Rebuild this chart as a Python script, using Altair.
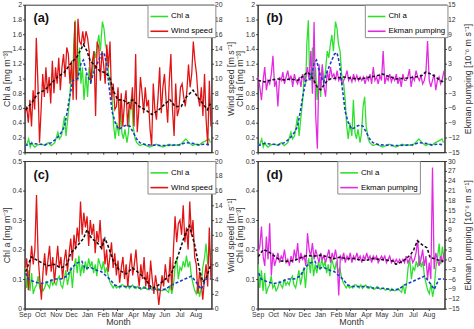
import altair as alt
import numpy as np
import pandas as pd

# ---------------- data ----------------
MONTH_STARTS = [(2010, 9), (2010, 10), (2010, 11), (2010, 12), (2011, 1), (2011, 2),
                (2011, 3), (2011, 4), (2011, 5), (2011, 6), (2011, 7), (2011, 8)]

# Chl a, offshore region (panels a, b): day offset from 1 Sep, value mg m-3
CHL_AB_DAY = [1, 5, 8, 11, 14, 17, 20, 26, 33, 40, 46, 52, 59, 65, 68, 72, 75, 78, 81, 84, 88, 91, 94, 96,
              99, 101, 104, 107, 110, 113, 116, 120, 123, 126, 129, 132, 136, 139, 142, 145, 148, 152,
              155, 158, 161, 164, 168, 171, 174, 177, 180, 184, 187, 190, 193, 196, 200, 203, 206, 209,
              212, 216, 219, 225, 232, 238, 244, 251, 257, 264, 270, 276, 283, 289, 296, 302, 308, 315,
              321, 328, 334, 340, 347, 353, 360, 363]
CHL_AB = [0.09, 0.12, 0.18, 0.07, 0.13, 0.09, 0.07, 0.10, 0.11, 0.09, 0.13, 0.09, 0.13, 0.27, 0.18, 0.22,
          0.35, 0.49, 0.22, 0.44, 0.71, 1.06, 0.93, 1.46, 1.79, 1.15, 0.97, 1.42, 0.93, 1.15, 0.71, 1.06,
          0.75, 1.15, 0.93, 1.06, 1.37, 1.28, 1.46, 1.59, 1.37, 1.77, 1.68, 1.46, 1.37, 1.06, 0.93, 0.71,
          0.35, 0.18, 0.40, 0.22, 0.71, 0.27, 0.18, 0.31, 0.13, 0.27, 0.62, 0.75, 0.35, 0.18, 0.13, 0.09,
          0.11, 0.09, 0.07, 0.09, 0.11, 0.09, 0.07, 0.09, 0.11, 0.09, 0.10, 0.09, 0.13, 0.18, 0.13, 0.09,
          0.11, 0.09, 0.13, 0.15, 0.18, 0.13]
CHL_AB_SM_DAY = [1, 14, 27, 40, 52, 62, 72, 78, 84, 88, 94, 104, 110, 115, 122, 129, 136, 142, 150, 155,
                 160, 164, 171, 177, 184, 193, 200, 206, 212, 219, 225, 238, 270, 302, 315, 328, 340, 353, 363]
CHL_AB_SM = [0.09, 0.12, 0.11, 0.10, 0.13, 0.18, 0.27, 0.35, 0.58, 0.75, 0.97, 1.00, 1.20, 1.25, 1.05,
             0.95, 1.10, 1.20, 1.33, 1.35, 1.20, 0.95, 0.55, 0.40, 0.31, 0.35, 0.37, 0.35, 0.27, 0.18,
             0.13, 0.10, 0.09, 0.10, 0.13, 0.12, 0.10, 0.11, 0.10]

# Wind speed, panel a (m s-1), roughly every 3 days
WIND_A = [5.3, 6.2, 4.0, 7.1, 3.5, 8.4, 5.8, 15.5, 9.3, 1.3, 5.8, 10.6, 7.5, 11.5, 8.0, 10.2, 6.6, 12.4,
          8.0, 11.5, 9.3, 12.8, 8.4, 11.5, 13.3, 10.2, 14.2, 13.3, 9.3, 12.4, 7.1, 17.7, 7.1, 18.1, 15.0,
          14.6, 16.4, 14.6, 16.4, 15.5, 13.7, 9.3, 12.4, 13.7, 4.9, 15.0, 14.2, 9.7, 13.7, 11.9, 9.3,
          14.6, 11.5, 15.0, 7.1, 9.3, 5.8, 6.2, 8.8, 3.1, 8.0, 3.5, 6.6, 8.4, 3.5, 6.6, 5.8, 8.8, 3.5,
          13.3, 2.7, 5.8, 10.2, 8.0, 5.3, 8.8, 6.2, 7.1, 3.1, 0.9, 9.3, 5.8, 4.4, 7.5, 11.5, 5.3, 8.8,
          10.6, 7.1, 4.0, 9.7, 13.3, 5.8, 2.2, 9.3, 4.9, 5.8, 8.8, 9.3, 7.5, 6.2, 8.4, 11.9, 8.8, 10.6,
          15.0, 12.4, 10.6, 7.5, 6.2, 8.8, 4.9, 10.6, 4.4, 0.9, 9.7, 3.5]
WIND_A_SM_DAY = [2, 13, 26, 39, 52, 64, 77, 90, 103, 115, 122, 128, 138, 147, 157, 166, 173, 182, 192,
                 201, 211, 224, 236, 249, 262, 275, 284, 294, 306, 316, 329, 338, 348, 357, 363]
WIND_A_SM = [5.75, 6.6, 8.0, 8.4, 9.3, 10.2, 10.8, 12.0, 13.0, 14.6, 13.7, 12.4, 11.7, 11.0, 10.8, 10.2,
             8.4, 7.1, 7.1, 6.6, 7.1, 6.2, 5.75, 5.1, 5.75, 6.6, 7.1, 6.2, 6.2, 7.5, 8.4, 7.5, 6.6,
             5.75, 6.6]

# Ekman pumping, panel b (1e-6 m s-1), roughly every 3 days
EKMAN_B = [0.3, -1.7, -4.4, -0.4, 2.3, -2.4, -0.4, -1.1, 0.9, 4.6, -1.7, -0.4, -5.7, 0.3, -0.4, 1.3,
           -1.1, 0.3, 1.6, -0.4, 0.6, -1.7, 0.9, -0.4, -1.1, 0.3, -1.7, 0.9, -0.4, 0.3, 2.3, -0.4, 5.6,
           -3.1, 11.5, -7.7, -14.3, 2.9, -2.4, 2.9, -1.7, -3.7, 1.6, -0.4, 2.3, 0.3, 0.9, -0.4, 1.6,
           -0.4, 0.3, -1.1, -0.4, 0.3, 1.6, -0.4, 0.3, -0.7, 0.9, -0.4, 0.6, -0.4, 0.3, -0.4, 0.3, -1.1,
           0.3, -0.4, 0.9, -1.1, 2.3, -0.4, 0.3, -1.1, 0.6, -0.4, 5.6, -1.1, 0.3, -0.4, 0.9, -0.7, 0.3,
           -0.4, 0.9, -1.1, 0.3, -1.7, 0.9, -0.4, -0.4, 0.3, 1.9, -1.7, 0.3, -0.4, 1.6, 0.3, -0.4, 0.6,
           -1.1, -0.4, 1.3, 7.6, -0.4, -1.7, -0.4, 0.9, -2.4, -0.4, 0.3, -1.1, -0.1, 1.6]
EKMAN_B_SM_DAY = [1, 14, 27, 40, 52, 65, 78, 88, 97, 104, 110, 116, 123, 129, 136, 142, 155, 168, 180,
                  193, 206, 219, 232, 244, 257, 270, 283, 296, 308, 321, 328, 334, 347, 356, 363]
EKMAN_B_SM = [-0.4, -0.7, -0.3, -0.1, -0.3, -0.1, -0.4, 0.4, 1.3, 0.6, -0.4, -1.7, -2.3, -1.4, -0.4,
              -0.1, 0.1, 0.3, 0.1, -0.1, 0.0, 0.3, 0.5, 0.9, 0.4, -0.1, 0.0, 0.1, 0.3, 0.6, 1.3, 1.1,
              0.4, -0.4, -0.7]

# Chl a, coastal region (panels c, d), roughly every 3 days
CHL_CD = [0.15, 0.07, 0.13, 0.06, 0.12, 0.05, 0.07, 0.08, 0.11, 0.07, 0.08, 0.06, 0.07, 0.09, 0.08, 0.07,
          0.10, 0.08, 0.09, 0.08, 0.10, 0.11, 0.08, 0.07, 0.10, 0.13, 0.08, 0.11, 0.14, 0.07, 0.14, 0.17,
          0.12, 0.18, 0.11, 0.15, 0.12, 0.16, 0.13, 0.17, 0.14, 0.16, 0.12, 0.15, 0.11, 0.17, 0.15, 0.13,
          0.16, 0.12, 0.14, 0.11, 0.09, 0.08, 0.07, 0.08, 0.07, 0.075, 0.07, 0.08, 0.08, 0.075, 0.07,
          0.08, 0.068, 0.075, 0.08, 0.07, 0.068, 0.075, 0.07, 0.065, 0.068, 0.075, 0.07, 0.065, 0.068,
          0.07, 0.062, 0.065, 0.068, 0.06, 0.068, 0.062, 0.06, 0.065, 0.068, 0.06, 0.055, 0.08, 0.05,
          0.08, 0.14, 0.17, 0.10, 0.14, 0.13, 0.16, 0.14, 0.18, 0.14, 0.16, 0.11, 0.085, 0.062, 0.05,
          0.085, 0.04, 0.07, 0.14, 0.17, 0.22, 0.15, 0.21, 0.17]
CHL_CD_SM_DAY = [2, 7, 20, 32, 45, 58, 71, 83, 93, 103, 112, 118, 128, 141, 150, 160, 166, 176, 185, 198,
                 211, 224, 236, 249, 262, 275, 287, 300, 313, 326, 335, 345, 354, 364]
CHL_CD_SM = [0.12, 0.10, 0.09, 0.085, 0.09, 0.10, 0.10, 0.11, 0.14, 0.155, 0.16, 0.135, 0.14, 0.13,
             0.125, 0.11, 0.10, 0.08, 0.075, 0.075, 0.075, 0.07, 0.07, 0.068, 0.063, 0.065, 0.08, 0.09,
             0.10, 0.11, 0.09, 0.065, 0.10, 0.10]

# Wind speed, panel c
WIND_C = [5.5, 6.8, 2.5, 5.8, 8.5, 6.0, 8.0, 15.4, 7.0, 4.0, 1.2, 5.0, 7.5, 4.5, 6.5, 8.5, 5.0, 7.0, 3.5,
          6.0, 8.5, 5.5, 7.0, 4.0, 6.5, 8.0, 5.0, 7.5, 9.5, 6.5, 10.0, 8.0, 11.0, 9.0, 14.5, 10.0, 13.0,
          11.0, 12.5, 8.5, 12.0, 10.0, 11.5, 7.5, 10.5, 9.0, 12.0, 8.0, 9.5, 6.0, 8.0, 5.0, 7.0, 9.0,
          5.5, 7.5, 4.5, 6.5, 3.5, 5.5, 7.0, 4.0, 6.0, 3.0, 5.5, 7.5, 4.5, 6.0, 8.0, 5.0, 3.0, 6.0, 4.0,
          7.0, 3.0, 5.0, 2.5, 6.5, 4.0, 2.0, 4.5, 3.0, 0.5, 2.5, 4.5, 3.0, 6.0, 4.0, 3.5, 7.0, 2.5, 8.0,
          12.5, 9.0, 11.5, 12.0, 10.0, 14.0, 9.0, 11.0, 8.0, 14.5, 10.0, 12.0, 7.0, 6.0, 2.0, 5.0, 3.5,
          1.2, 4.0, 6.0, 3.0, 11.0, 4.0]
WIND_C_SM_DAY = [2, 13, 26, 39, 45, 58, 71, 83, 90, 103, 115, 122, 131, 141, 150, 157, 163, 173, 185,
                 198, 211, 224, 236, 249, 262, 275, 287, 300, 313, 322, 332, 341, 348, 354, 364]
WIND_C_SM = [5.0, 7.0, 6.5, 6.0, 5.8, 6.0, 5.5, 6.0, 7.5, 8.5, 9.5, 10.7, 9.5, 9.0, 8.2, 9.5, 8.5, 6.5,
             5.2, 4.7, 5.5, 4.8, 4.0, 2.7, 3.2, 4.0, 4.8, 7.2, 10.0, 11.2, 8.7, 5.5, 3.6, 4.0, 6.0]

# Ekman pumping, panel d
EKMAN_D = [2, 4, 10, 1, -2, 7, 0, 11, -5, 2, -2, 0, 2, -1, 1, 0, 3, -1, 0, -2, 1, -1, 3, 0, 5, -1, 2, 0,
           1, -2, 8, 3, 1, 5, 0, 3, 1, -1, 2, 0, 1, -1, 1, 3, -1, 2, 0, 3, 0, -11, 1, 0, 2, -1, 1, 0,
           2, -1, 1, 0, 2, 0, 1, -1, 1, 0, 2, 0, 1, -1, 1, 0, 1, -1, 0, 1, 0, 1, -1, 0, 1, -1, 0, -1,
           0, -1, 0, -1, 0, -1, 1, -1, 0, 1, -1, 0, 2, 6, -2, 0, 3, -2, 1, -6, -1, -6, 28, -3, 2, 0, -2,
           1, -1, 2]
EKMAN_D_SM_DAY = [1, 11, 20, 33, 46, 59, 72, 84, 97, 110, 123, 136, 148, 161, 174, 187, 200, 212, 225,
                  238, 251, 264, 270, 283, 292, 299, 305, 312, 321, 331, 337, 344, 353, 363]
EKMAN_D_SM = [0.8, 3.0, 2.5, 1.0, -0.5, -0.6, -0.3, 0.5, 1.2, 1.0, 1.3, 0.8, 0.2, 0.7, 0.2, 0.3, -0.2,
              -0.3, 0.3, 0.0, -0.2, -0.5, -1.5, -0.6, 0.5, 1.5, 3.0, 5.7, 4.5, 3.5, 0.5, 0.3, -0.2, -0.6]

# ---------------- helpers ----------------
BASE = pd.Timestamp("2010-09-01")
GREEN, RED, MAGENTA, BLUE, BLACK = "#2ee02e", "#e01414", "#e22ae2", "#1a3cc8", "#111111"


def frame(days, vals, name):
    days = np.asarray(days, dtype=float)
    return pd.DataFrame({"t": BASE + pd.to_timedelta(days, unit="D"), "v": vals, "s": name})


def even_days(n):
    return np.linspace(1, 364, n)


def x_enc(bottom):
    vals = [alt.DateTime(year=y, month=m, date=1) for y, m in MONTH_STARTS]
    if bottom:
        ax = alt.Axis(values=vals, format="%b", title="Month", labelFlush=False, grid=False,
                      tickSize=2, labelPadding=0, titlePadding=0)
    else:
        ax = alt.Axis(values=vals, labels=False, title=None, grid=False, tickSize=2)
    return alt.X("t:T", axis=ax,
                 scale=alt.Scale(domain=[alt.DateTime(year=2010, month=9, date=1),
                                         alt.DateTime(year=2011, month=8, date=31, hours=23)]))


def panel(letter, chl, chl_sm, sec, sec_sm, chl_max, chl_step, sec_min, sec_max, sec_step,
          sec_name, sec_title, sec_color, bottom, legend_x):
    xe = x_enc(bottom)
    chl_vals = [round(i * chl_step, 3) for i in range(int(round(chl_max / chl_step)) + 1)]
    sec_vals = list(range(sec_min, sec_max + 1, sec_step))
    col = alt.Color("s:N",
                    scale=alt.Scale(domain=["Chl a", sec_name], range=[GREEN, sec_color]),
                    legend=alt.Legend(orient="none", legendX=legend_x, legendY=0, title=None,
                                      symbolType="stroke", symbolSize=324, symbolStrokeWidth=1.6,
                                      labelFontSize=8, padding=2, rowPadding=1, labelOffset=2,
                                      strokeColor="#8a8a8a", fillColor="white", cornerRadius=0))
    g = alt.Chart(chl).mark_line(strokeWidth=1.3, clip=True).encode(
        x=xe,
        y=alt.Y("v:Q", scale=alt.Scale(domain=[0, chl_max], nice=False),
                axis=alt.Axis(values=chl_vals, format="~g", title="Chl a [mg m⁻³]", grid=False,
                              tickSize=2, labelPadding=1, titlePadding=1)),
        color=col)
    r = alt.Chart(sec).mark_line(strokeWidth=1.3, clip=True).encode(
        x=xe,
        y=alt.Y("v:Q", scale=alt.Scale(domain=[sec_min, sec_max], nice=False),
                axis=alt.Axis(orient="right", values=sec_vals, format="~g", title=sec_title,
                              titleAngle=270, titleBaseline="top", grid=False, tickSize=2,
                              labelPadding=1, titlePadding=5)),
        color=col)
    b = alt.Chart(chl_sm).mark_line(strokeWidth=1.6, strokeDash=[3, 2], color=BLUE, clip=True).encode(
        x=xe, y=alt.Y("v:Q", scale=alt.Scale(domain=[0, chl_max], nice=False), axis=None))
    k = alt.Chart(sec_sm).mark_line(strokeWidth=1.6, strokeDash=[3, 2], color=BLACK, clip=True).encode(
        x=xe, y=alt.Y("v:Q", scale=alt.Scale(domain=[sec_min, sec_max], nice=False), axis=None))
    lab = alt.Chart(pd.DataFrame({"lab": [letter]})).mark_text(
        fontSize=13, fontWeight="bold", align="left", baseline="middle", color="#111").encode(
        text="lab:N", x=alt.value(9), y=alt.value(14))
    return alt.layer(g, r, b, k, lab).resolve_scale(y="independent").properties(width=190, height=150)


pa = panel("(a)", frame(CHL_AB_DAY, CHL_AB, "Chl a"), frame(CHL_AB_SM_DAY, CHL_AB_SM, "sm"),
           frame(even_days(len(WIND_A)), WIND_A, "Wind speed"), frame(WIND_A_SM_DAY, WIND_A_SM, "sm2"),
           2, 0.2, 0, 20, 2, "Wind speed", "Wind speed [m s⁻¹]", RED, False, 125)
pb = panel("(b)", frame(CHL_AB_DAY, CHL_AB, "Chl a"), frame(CHL_AB_SM_DAY, CHL_AB_SM, "sm"),
           frame(even_days(len(EKMAN_B)), EKMAN_B, "Ekman pumping"),
           frame(EKMAN_B_SM_DAY, EKMAN_B_SM, "sm2"),
           2, 0.2, -15, 15, 3, "Ekman pumping", "Ekman pumping [10⁻⁶ m s⁻¹]", MAGENTA, False, 109)
pc = panel("(c)", frame(even_days(len(CHL_CD)), CHL_CD, "Chl a"), frame(CHL_CD_SM_DAY, CHL_CD_SM, "sm"),
           frame(even_days(len(WIND_C)), WIND_C, "Wind speed"), frame(WIND_C_SM_DAY, WIND_C_SM, "sm2"),
           0.5, 0.1, 0, 20, 2, "Wind speed", "Wind speed [m s⁻¹]", RED, True, 125)
pd_ = panel("(d)", frame(even_days(len(CHL_CD)), CHL_CD, "Chl a"), frame(CHL_CD_SM_DAY, CHL_CD_SM, "sm"),
            frame(even_days(len(EKMAN_D)), EKMAN_D, "Ekman pumping"),
            frame(EKMAN_D_SM_DAY, EKMAN_D_SM, "sm2"),
            0.5, 0.1, -15, 30, 3, "Ekman pumping", "Ekman pumping [10⁻⁶ m s⁻¹]", MAGENTA, True, 81)

chart = alt.concat(pa, pb, pc, pd_, columns=2, spacing={"row": 9, "column": 47}, bounds="flush").resolve_scale(
    color="independent").resolve_legend(color="independent").properties(
    padding={"left": 1, "top": -3, "right": 0, "bottom": 0}, background="white"
).configure(font="Liberation Sans").configure_axis(
    labelFontSize=7, titleFontSize=9, titleFontWeight="normal", labelColor="#333", titleColor="#333",
    domainColor="#333", tickColor="#333"
).configure_view(stroke="#333", strokeWidth=1)

chart.save("out.html", embed_options={"renderer": "svg", "actions": False})
